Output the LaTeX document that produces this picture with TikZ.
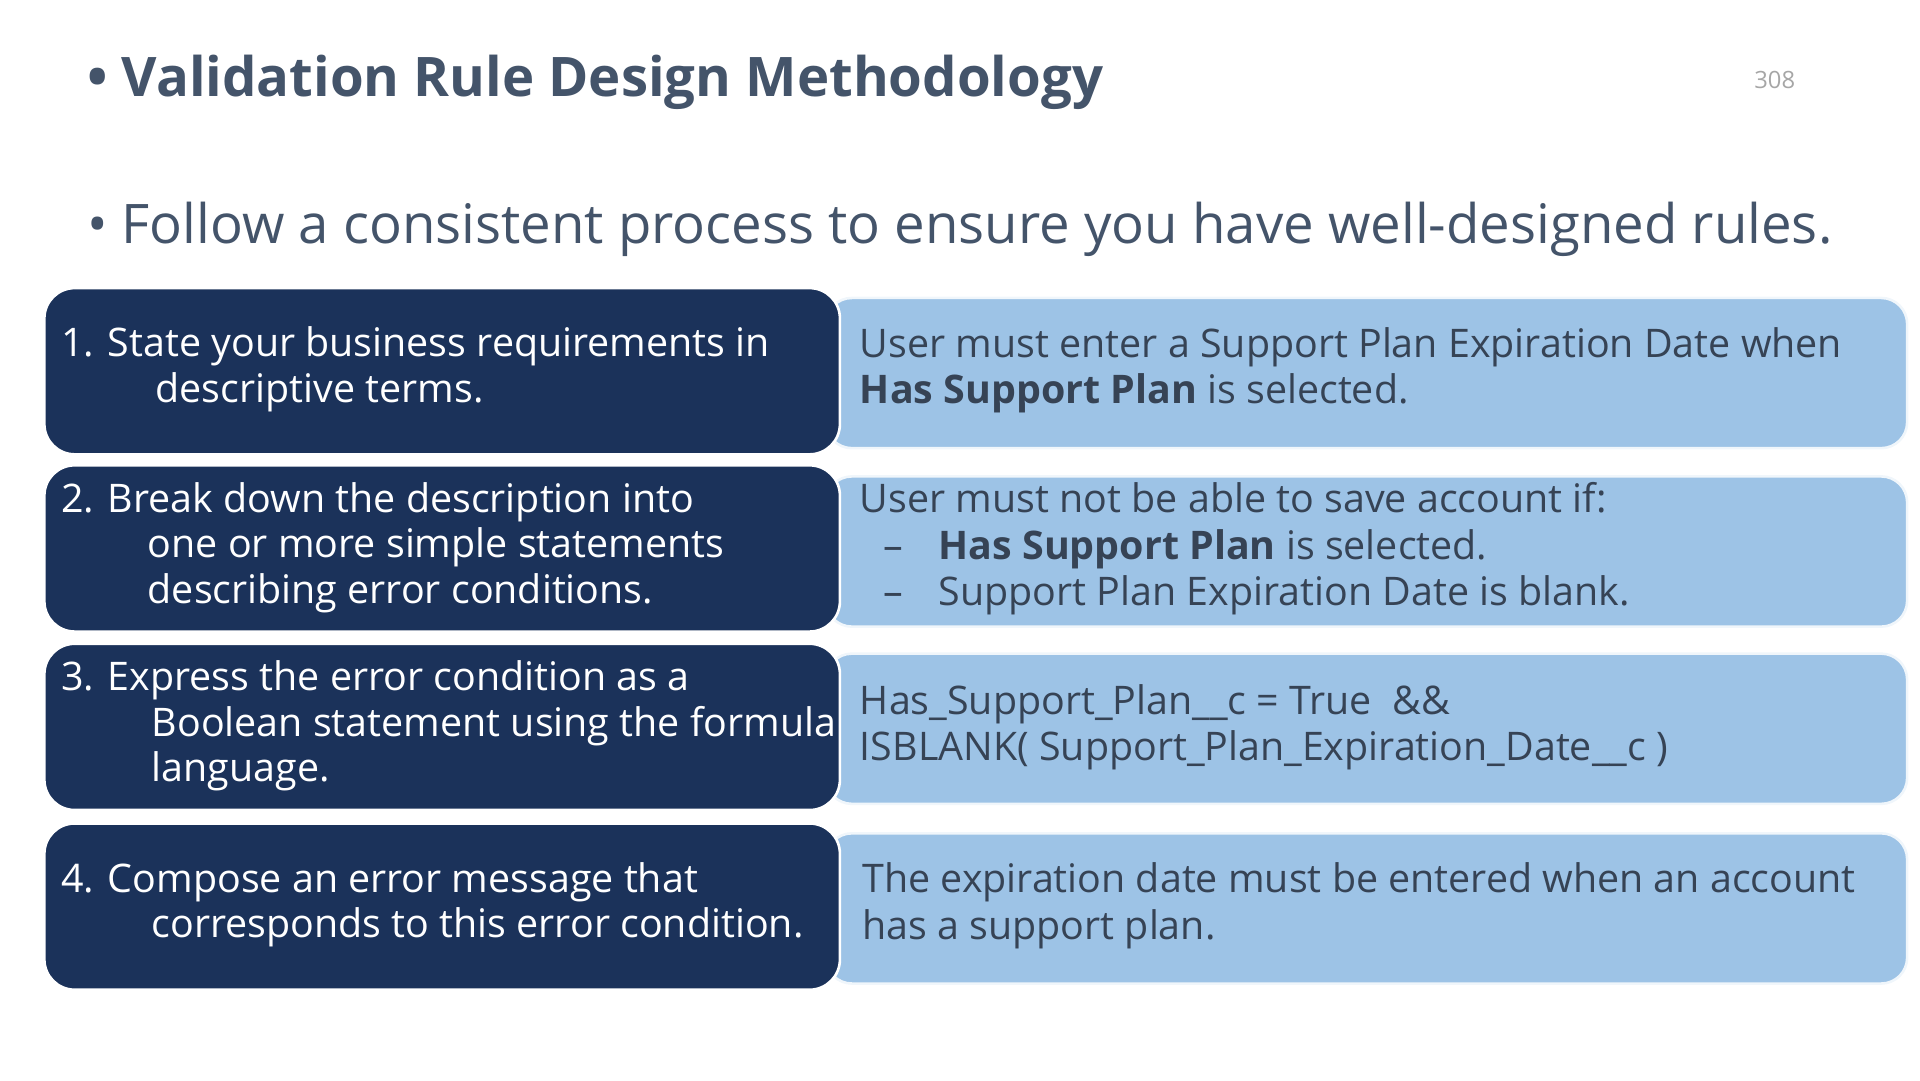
\documentclass[tikz,border=0pt]{standalone}
\usepackage{fontspec}
\setmainfont{Open Sans}
\usetikzlibrary{positioning}
\definecolor{navy}{HTML}{1B325A}
\definecolor{sky}{HTML}{9DC3E6}
\definecolor{slate}{HTML}{44546A}
\tikzset{
  stepbox/.style={fill=navy, draw=white, line width=0.6pt, rounded corners=7pt, minimum width=6.46cm, minimum height=1.35cm, anchor=north west},
  infobox/.style={fill=sky, draw=white!85!sky, line width=0.6pt, rounded corners=6pt, minimum width=8.78cm, minimum height=1.22cm, anchor=north west},
  steptxt/.style={text=white, anchor=west, align=left, inner sep=0pt, font=\fontsize{9.1}{10.5}\selectfont},
  infotxt/.style={text=slate!80!black, anchor=west, align=left, inner sep=0pt, font=\fontsize{9.1}{10.7}\selectfont}
}
\begin{document}
\begin{tikzpicture}[x=0.01cm, y=-0.01cm]
	\useasboundingbox (0,0) rectangle (1560,877.5);
	\node[anchor=base west, text=slate, font=\fontsize{12.6}{14}\selectfont\bfseries, inner sep=0pt] (title) at (70,78) {\textbullet\ Validation Rule Design Methodology};
	\node[anchor=base, text=gray!70, font=\fontsize{5.5}{6}\selectfont, inner sep=0pt] (page) at (1442,72) {308};
	\node[anchor=base west, text=slate, font=\fontsize{12.6}{14}\selectfont, inner sep=0pt] (intro) at (70,198) {\textbullet\ Follow a consistent process to ensure you have well-designed rules.};
	% light boxes
	\foreach \n/\y in {1/241, 2/386, 3/530, 4/676}{
		\node[infobox] (info\n) at (670,\y) {};
	}
	% dark boxes
	\foreach \n/\y in {1/233, 2/377, 3/522, 4/668}{
		\node[stepbox] (step\n) at (35,\y) {};
	}
	\node[steptxt] (t1) at (49,300) {1. State your business requirements in\\\hspace*{2.4em}descriptive terms.};
	\node[steptxt] (t2) at (49,445) {2. Break down the description into\\\hspace*{2.2em}one or more simple statements\\\hspace*{2.2em}describing error conditions.};
	\node[steptxt] (t3) at (49,590) {3. Express the error condition as a\\\hspace*{2.3em}Boolean statement using the formula\\\hspace*{2.3em}language.};
	\node[steptxt] (t4) at (49,735) {4. Compose an error message that\\\hspace*{2.3em}corresponds to this error condition.};
	\node[infotxt] (i1) at (698,301) {User must enter a Support Plan Expiration Date when\\\textbf{Has Support Plan} is selected.};
	\node[infotxt] (i2) at (698,446) {User must not be able to save account if:\\\hspace*{0.6em}–\hspace{0.9em}\textbf{Has Support Plan} is selected.\\\hspace*{0.6em}–\hspace{0.9em}Support Plan Expiration Date is blank.};
	\node[infotxt] (i3) at (698,591) {Has\_Support\_Plan\_\_c = True \ \&\&\\ISBLANK( Support\_Plan\_Expiration\_Date\_\_c )};
	\node[infotxt] (i4) at (700,736) {The expiration date must be entered when an account\\has a support plan.};
\end{tikzpicture}
\end{document}
